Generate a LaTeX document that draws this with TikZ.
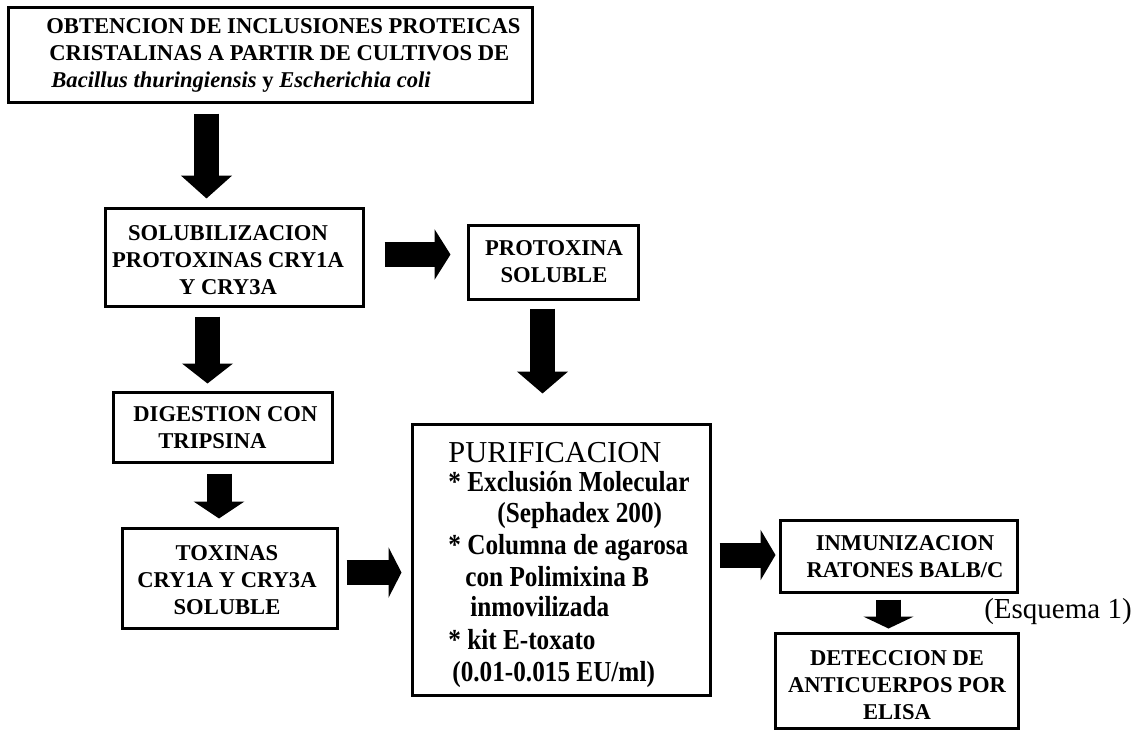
\documentclass[tikz,border=0pt]{standalone}
\usepackage{fontspec}
\setmainfont{Liberation Serif}
\newfontfamily\condserif[FakeStretch=0.87]{Liberation Serif}
\usetikzlibrary{arrows.meta,calc}
\begin{document}
\begin{tikzpicture}[x=0.5pt,y=-0.5pt,
  box/.style={draw=black,line width=1.5pt,rectangle,inner sep=0pt},
  boxtext/.style={font=\fontsize{11.3}{13.5}\selectfont\bfseries,inner sep=0pt,align=center},
  purtext/.style={anchor=base west,inner sep=0pt,font=\fontsize{14.5}{17}\selectfont\condserif\bfseries},
  blockarrow/.style={line width=12.5pt,-{Triangle[length=#1,width=25pt]}}
]
\useasboundingbox (0,0) rectangle (1139,729);
\fill[white] (0,0) rectangle (1139,729);

% boxes
\node[box,minimum width=262pt,minimum height=47.5pt] (b1) at (270,54.5) {};
\node[box,minimum width=129pt,minimum height=49pt] (b2) at (234,257) {};
\node[box,minimum width=85pt,minimum height=37pt] (b3) at (553,262) {};
\node[box,minimum width=109.5pt,minimum height=35pt] (b4) at (222.5,427) {};
\node[box,minimum width=107.5pt,minimum height=50pt] (b5) at (229.5,578) {};
\node[box,minimum width=149pt,minimum height=135.5pt] (b6) at (561,559.5) {};
\node[box,minimum width=118.5pt,minimum height=36pt] (b7) at (898.5,556) {};
\node[box,minimum width=121.5pt,minimum height=47.5pt] (b8) at (896.5,680.5) {};

% box texts
\node[boxtext,align=left,anchor=west] (t1) at (46,55) {OBTENCION DE INCLUSIONES PROTEICAS\\\hspace*{1.5pt}CRISTALINAS A PARTIR DE CULTIVOS DE\\\hspace*{2.5pt}{\bfseries\itshape Bacillus thuringiensis} y {\bfseries\itshape Escherichia coli}};
\node[boxtext] (t2) at (228,260) {SOLUBILIZACION\\PROTOXINAS CRY1A\\Y CRY3A};
\node[boxtext] (t3) at (554,262) {PROTOXINA\\SOLUBLE};
\node[boxtext,align=left,anchor=west] (t4) at (133,428) {DIGESTION CON\\\hspace*{12.5pt}TRIPSINA};
\node[boxtext] (t5) at (227,580) {TOXINAS\\CRY1A Y CRY3A\\SOLUBLE};
\node[boxtext] (t7) at (905,557) {INMUNIZACION\\RATONES BALB/C};
\node[boxtext] (t8) at (897,685) {DETECCION DE\\ANTICUERPOS POR\\ELISA};

% purificacion lines
\node[anchor=base west,inner sep=0pt,font=\fontsize{15.2}{18}\selectfont] (p0) at (448,462) {PURIFICACION};
\node[purtext] (p1) at (448,491.5) {* Exclusión Molecular};
\node[purtext] (p2) at (497,522.5) {(Sephadex 200)};
\node[purtext] (p3) at (448,554.5) {* Columna de agarosa};
\node[purtext] (p4) at (465,586.5) {con Polimixina B};
\node[purtext] (p5) at (470,616.5) {inmovilizada};
\node[purtext] (p6) at (448,649.5) {* kit E-toxato};
\node[purtext] (p7) at (452,681.5) {(0.01-0.015 EU/ml)};

\node[inner sep=0pt,font=\fontsize{14.5}{17}\selectfont] (esq) at (1058,612) {(Esquema 1)};

% block arrows
\draw[blockarrow=11.5pt] ($(b1.south)+(-63.5,10)$) -- ($(b2.north)+(-27.5,-8)$);
\draw[blockarrow=10pt] ($(b2.south)+(-26.5,9)$) -- ($(b4.north)+(-15,-7)$);
\draw[blockarrow=8pt] ($(b2.east)+(20,-2.5)$) -- ($(b3.west)+(-16,-7.5)$);
\draw[blockarrow=11pt] ($(b3.south)+(-10.5,8)$) -- ($(b6.north)+(-18.5,-29)$);
\draw[blockarrow=8.5pt] ($(b4.south)+(-3.5,10)$) -- ($(b5.north)+(-10.5,-8)$);
\draw[blockarrow=6.5pt] ($(b5.east)+(8,-5.5)$) -- ($(b6.west)+(-9,13)$);
\draw[blockarrow=7.5pt] ($(b6.east)+(8,-4.5)$) -- ($(b7.west)+(-3,-1)$);
\draw[blockarrow=6pt] ($(b7.south)+(-10,6)$) -- ($(b8.north)+(-8,-3)$);
\end{tikzpicture}
\end{document}
